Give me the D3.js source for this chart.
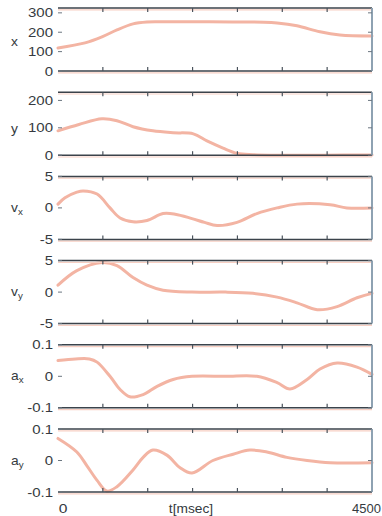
<!DOCTYPE html>
<html>
<head>
<meta charset="utf-8">
<script src="https://cdn.jsdelivr.net/npm/d3@7"></script>
<style>
  body { margin: 0; background: #fff; }
  text { font-family: "Liberation Sans", Arial, sans-serif; fill: #353a40; }
</style>
</head>
<body>
<svg id="chart" width="382" height="516"></svg>
<script>
// time ticks (7 equal steps from 0 to 4500 ms)
var t_ticks = [0, 642.9, 1285.7, 1928.6, 2571.4, 3214.3, 3857.1, 4500];

// panel names, y domains, tick values
var names = ["x", "y", "vx", "vy", "ax", "ay"];
var y_domains = [[0, 325], [0, 230], [-5, 5], [-5, 5], [-0.1, 0.1], [-0.1, 0.1]];
var y_ticks = [[0, 100, 200, 300], [0, 100, 200], [-5, 0, 5], [-5, 0, 5], [-0.1, 0, 0.1], [-0.1, 0, 0.1]];
var label_at = [150, 95, 0, 0, 0, 0];

// series
var x_t = [0, 387, 630, 845, 1075, 1275, 1500, 2000, 2500, 2950, 3140, 3425, 3755, 4040, 4500];
var x_v = [119, 145, 176, 212, 243, 253, 254, 254, 253, 252, 248, 233, 202, 186, 181];

var y_t = [0, 300, 630, 845, 1075, 1360, 1650, 1940, 2135, 2365, 2565, 2795, 3200, 3800, 4500];
var y_v = [89, 112, 133, 126, 104, 89, 82, 78, 52, 26, 7, 2, 0, 0, 1];

var vx_t = [0, 100, 270, 360, 560, 745, 890, 1075, 1275, 1505, 1680, 1920, 2100, 2280, 2565, 2850, 3140, 3425, 3900, 4140, 4500];
var vx_v = [0.6, 1.6, 2.5, 2.7, 2.2, 0, -1.6, -2.2, -2.0, -0.9, -1.0, -1.7, -2.3, -2.8, -2.3, -0.9, 0, 0.6, 0.5, 0, 0];

var vy_t = [0, 270, 630, 845, 1075, 1275, 1505, 1920, 2400, 2795, 3140, 3425, 3715, 4000, 4285, 4500];
var vy_v = [1.1, 3.4, 4.7, 4.2, 2.3, 1.1, 0.3, 0, 0, -0.2, -0.8, -1.7, -2.8, -2.3, -0.9, -0.2];

var ax_t = [0, 250, 450, 560, 745, 890, 1030, 1220, 1420, 1650, 1920, 2400, 2850, 3140, 3325, 3570, 3755, 4000, 4285, 4500];
var ax_v = [0.05, 0.055, 0.055, 0.045, 0, -0.042, -0.065, -0.058, -0.032, -0.01, 0, 0, 0, -0.02, -0.04, -0.01, 0.023, 0.042, 0.029, 0.006];

var ay_t = [0, 270, 415, 560, 700, 845, 1075, 1220, 1360, 1560, 1750, 1920, 2220, 2510, 2750, 2995, 3280, 3570, 3900, 4500];
var ay_v = [0.07, 0.027, -0.017, -0.063, -0.097, -0.083, -0.03, 0.01, 0.033, 0.017, -0.023, -0.04, 0, 0.02, 0.033, 0.027, 0.01, 0, -0.007, -0.007];

var series_t = [x_t, y_t, vx_t, vy_t, ax_t, ay_t];
var series_v = [x_v, y_v, vx_v, vy_v, ax_v, ay_v];

var svg = d3.select("#chart");
var left = 58, right = 372, top0 = 8, step = 84.2, ph = 63;

var x = d3.scaleLinear().domain([0, 4500]).range([left, right]);

names.forEach(function(name, i) {
  var top = top0 + i * step;
  var y = d3.scaleLinear().domain(y_domains[i]).range([top + ph, top]);
  var g = svg.append("g");

  // curve
  var pts = series_t[i].map(function(t, k) { return [t, series_v[i][k]]; });
  var line = d3.line()
    .x(function(d) { return x(d[0]); })
    .y(function(d) { return y(d[1]); })
    .curve(d3.curveCatmullRom.alpha(0.5));
  g.append("path")
    .attr("d", line(pts))
    .attr("fill", "none")
    .attr("stroke", "#f3b4a3")
    .attr("stroke-width", 3)
    .attr("stroke-linecap", "round");

  // pink shadow under the frame lines
  [top, top + ph].forEach(function(yy) {
    g.append("line")
      .attr("x1", left).attr("x2", right)
      .attr("y1", yy + 1.8).attr("y2", yy + 1.8)
      .attr("stroke", "#f7cfc3").attr("stroke-width", 1.2);
  });

  // frame: top, bottom, right
  [top, top + ph].forEach(function(yy) {
    g.append("line")
      .attr("x1", left).attr("x2", right)
      .attr("y1", yy).attr("y2", yy)
      .attr("stroke", "#3b434b").attr("stroke-width", 1.5);
  });
  g.append("line")
    .attr("x1", right).attr("x2", right)
    .attr("y1", top).attr("y2", top + ph)
    .attr("stroke", "#8ea2b2").attr("stroke-width", 2);

  // time ticks, inward on top and bottom
  t_ticks.slice(1, -1).forEach(function(t) {
    g.append("line").attr("x1", x(t)).attr("x2", x(t))
      .attr("y1", top).attr("y2", top + 4)
      .attr("stroke", "#4a535c").attr("stroke-width", 1.2);
    g.append("line").attr("x1", x(t)).attr("x2", x(t))
      .attr("y1", top + ph).attr("y2", top + ph - 4)
      .attr("stroke", "#4a535c").attr("stroke-width", 1.2);
  });

  // y ticks and labels
  y_ticks[i].forEach(function(v) {
    var yy = y(v);
    g.append("line").attr("x1", left).attr("x2", left + 4)
      .attr("y1", yy).attr("y2", yy)
      .attr("stroke", "#6b7680").attr("stroke-width", 1);
    g.append("line").attr("x1", right - 4).attr("x2", right)
      .attr("y1", yy).attr("y2", yy)
      .attr("stroke", "#6b7680").attr("stroke-width", 1);
    g.append("text")
      .attr("transform", "translate(" + (left - 5) + "," + (yy + 4.5) + ") scale(1.2,1)")
      .attr("text-anchor", "end")
      .attr("font-size", 12.5)
      .text(String(v));
  });

  // panel label
  var lab = g.append("text")
    .attr("transform", "translate(11," + (y(label_at[i]) + 4) + ") scale(1.15,1)")
    .attr("font-size", 12);
  lab.append("tspan").text(name[0]);
  if (name.length > 1) {
    lab.append("tspan")
      .attr("font-size", 8.5)
      .attr("dy", 3)
      .text(name[1]);
  }
});

// bottom labels
var yb = 513;
svg.append("text")
  .attr("transform", "translate(" + (x(0) + 5) + "," + yb + ") scale(1.2,1)")
  .attr("text-anchor", "middle").attr("font-size", 13).text("0");
svg.append("text")
  .attr("transform", "translate(191," + yb + ") scale(1.1,1)")
  .attr("text-anchor", "middle").attr("font-size", 12.5).text("t[msec]");
svg.append("text")
  .attr("transform", "translate(352," + yb + ")")
  .attr("text-anchor", "start").attr("font-size", 13).text("4500");
</script>
</body>
</html>
